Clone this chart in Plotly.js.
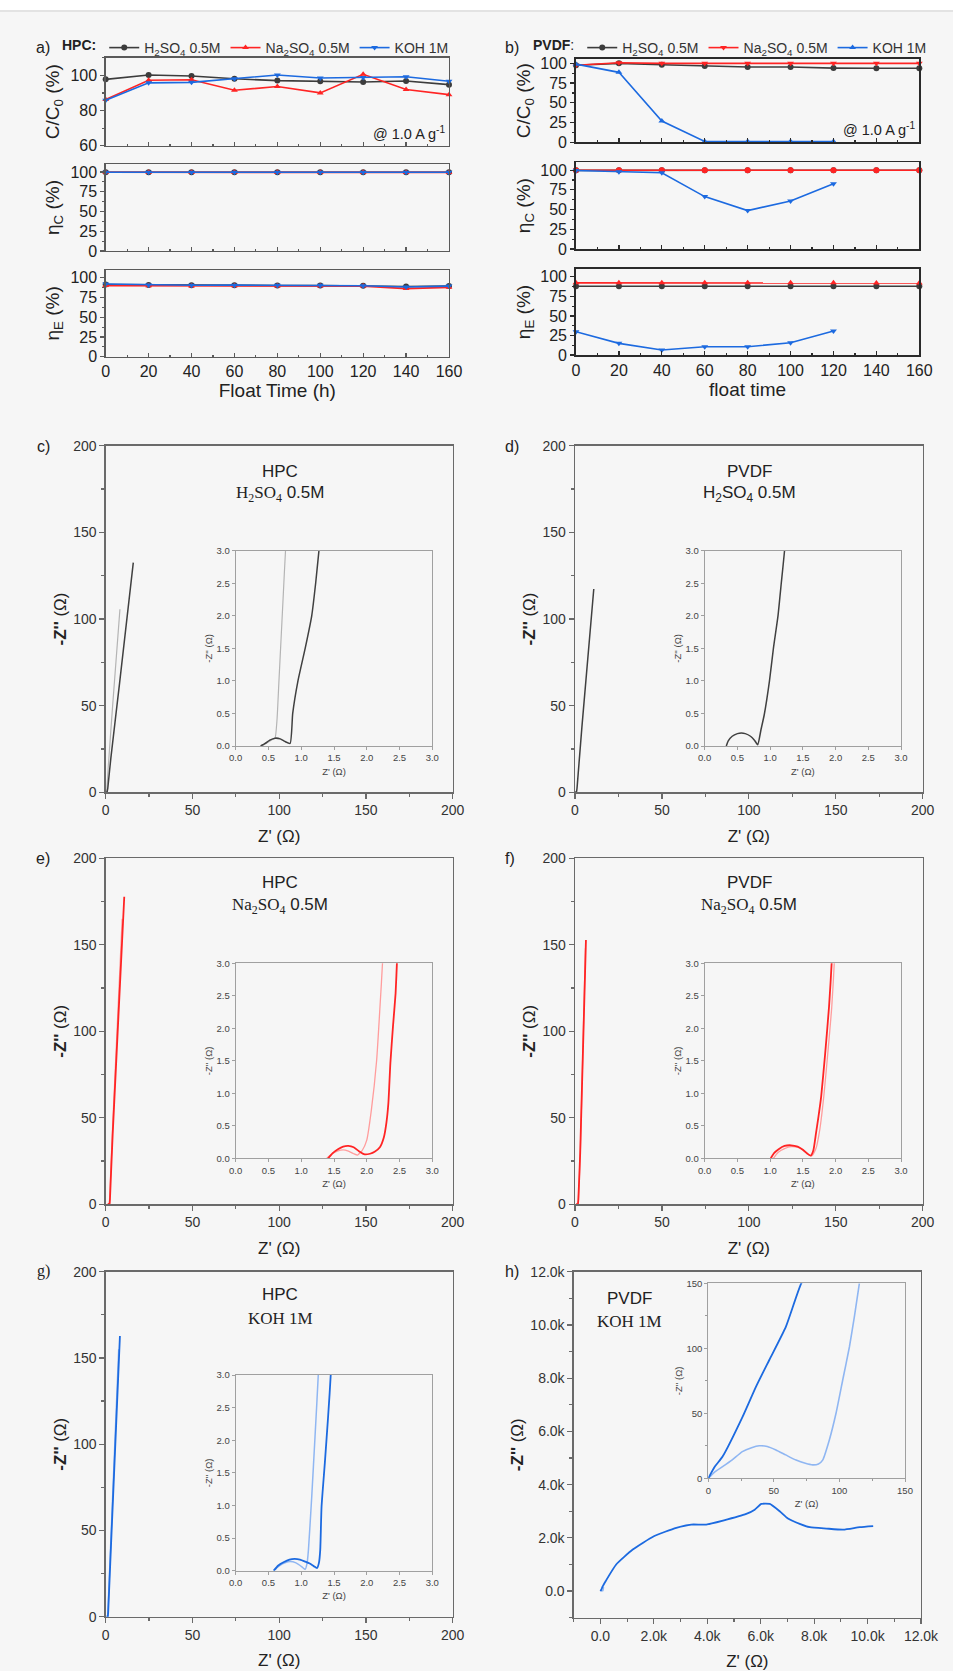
<!DOCTYPE html>
<html>
<head>
<meta charset="utf-8">
<script src="https://cdn.plot.ly/plotly-3.0.1.min.js"></script>
<style>
  html, body { margin: 0; padding: 0; background: #f6f6f6; }
  #chart { width: 953px; height: 1671px; }
</style>
</head>
<body>
<div id="chart"></div>
<script>
// ---------- float test: capacitance retention and efficiencies ----------
const floatTime    = [0, 20, 40, 60, 80, 100, 120, 140, 160];
const floatTimeKOH = [0, 20, 40, 60, 80, 100, 120];

// HPC binder
const hpcRetH2SO4   = [97.7, 100.2, 99.6, 98.0, 97.0, 96.6, 96.2, 96.8, 94.7];
const hpcRetNa2SO4  = [86.2, 97.2, 97.5, 91.5, 93.6, 90.0, 100.6, 91.9, 89.0];
const hpcRetKOH     = [85.8, 95.7, 96.0, 98.1, 100.2, 98.5, 98.7, 99.2, 96.6];
const hpcEtaCH2SO4  = [99.6, 99.7, 99.7, 99.6, 99.7, 99.6, 99.6, 99.5, 99.5];
const hpcEtaCNa2SO4 = [99.5, 99.6, 99.6, 99.6, 99.6, 99.5, 99.6, 99.4, 99.4];
const hpcEtaCKOH    = [99.6, 99.7, 99.7, 99.7, 99.7, 99.6, 99.7, 99.6, 99.5];
const hpcEtaEH2SO4  = [91.5, 91.0, 90.6, 90.6, 90.4, 90.4, 90.0, 89.0, 89.6];
const hpcEtaENa2SO4 = [90.2, 90.0, 89.8, 90.0, 89.8, 89.8, 89.6, 86.4, 88.0];
const hpcEtaEKOH    = [92.3, 91.0, 90.6, 90.8, 90.5, 90.5, 90.0, 88.5, 89.6];

// PVDF binder
const pvdfRetH2SO4   = [97.5, 100.0, 98.3, 96.6, 95.4, 95.4, 94.0, 93.7, 93.7];
const pvdfRetNa2SO4  = [97.5, 100.8, 100.0, 100.0, 100.0, 100.0, 100.0, 100.0, 100.0];
const pvdfRetKOH     = [99.0, 88.6, 27.0, 1.0, 1.0, 1.0, 1.0];
const pvdfEtaCH2SO4  = [99.8, 99.9, 99.9, 99.9, 99.9, 99.9, 99.9, 99.9, 99.9];
const pvdfEtaCNa2SO4 = [99.9, 100.0, 100.0, 100.0, 100.0, 100.0, 100.0, 100.0, 100.0];
const pvdfEtaCKOH    = [99.6, 98.0, 96.7, 66.5, 48.7, 61.0, 82.7];
const pvdfEtaEH2SO4  = [88.0, 88.0, 88.0, 88.0, 88.0, 88.0, 88.0, 88.0, 88.0];
const pvdfEtaENa2SO4 = [92.3, 92.3, 92.3, 92.3, 92.3, 92.3, 92.3, 92.0, 92.0];
const pvdfEtaEKOH    = [29.8, 14.9, 6.4, 10.6, 10.6, 15.7, 30.6];

// ---------- Nyquist plots: Z' and -Z'' (ohm), initial and after float ----------
const hpcH2SO4InitRe  = [0.40, 0.48, 0.56, 0.60, 0.63, 0.66, 0.69, 0.72, 0.76, 1.5, 4.0, 8.2];
const hpcH2SO4InitIm  = [0.00, 0.05, 0.10, 0.12, 0.40, 1.00, 1.60, 2.20, 3.00, 15, 50, 105.6];
const hpcH2SO4AgedRe  = [0.38, 0.45, 0.52, 0.60, 0.68, 0.75, 0.83, 0.87, 0.95, 1.06, 1.16, 1.22, 1.27, 3.0, 8.0, 15.9];
const hpcH2SO4AgedIm  = [0.00, 0.04, 0.09, 0.12, 0.11, 0.07, 0.04, 0.50, 1.00, 1.50, 2.00, 2.50, 3.00, 20, 63, 132.5];

const pvdfH2SO4Re = [0.33, 0.36, 0.42, 0.50, 0.56, 0.62, 0.70, 0.76, 0.81, 0.86, 0.91, 0.99, 1.05, 1.12, 1.17, 1.22, 4.0, 10.8];
const pvdfH2SO4Im = [0.00, 0.08, 0.15, 0.19, 0.20, 0.19, 0.15, 0.09, 0.02, 0.25, 0.48, 1.00, 1.50, 2.00, 2.50, 3.00, 38, 117.3];

const hpcNa2SO4InitRe = [1.39, 1.46, 1.55, 1.64, 1.72, 1.80, 1.86, 1.93, 2.00, 2.07, 2.15, 2.20, 2.24, 4.0, 9.5];
const hpcNa2SO4InitIm = [0.00, 0.06, 0.11, 0.13, 0.11, 0.07, 0.05, 0.12, 0.28, 0.74, 1.50, 2.30, 3.00, 45, 165];
const hpcNa2SO4AgedRe = [1.41, 1.48, 1.56, 1.64, 1.72, 1.80, 1.88, 1.97, 2.05, 2.12, 2.20, 2.26, 2.30, 2.33, 2.36, 2.40, 2.44, 2.46, 4.0, 10.7];
const hpcNa2SO4AgedIm = [0.00, 0.08, 0.14, 0.18, 0.19, 0.17, 0.11, 0.06, 0.07, 0.10, 0.17, 0.32, 0.55, 0.85, 1.46, 2.03, 2.54, 3.00, 40, 177.8];

const pvdfNa2SO4InitRe = [1.05, 1.12, 1.22, 1.32, 1.42, 1.52, 1.60, 1.64, 1.70, 1.76, 1.82, 1.88, 1.94, 1.98, 3.1, 6.0];
const pvdfNa2SO4InitIm = [0.00, 0.09, 0.15, 0.18, 0.17, 0.12, 0.05, 0.04, 0.15, 0.45, 0.95, 1.60, 2.30, 3.00, 32, 148];
const pvdfNa2SO4AgedRe = [1.01, 1.06, 1.13, 1.22, 1.32, 1.42, 1.50, 1.57, 1.62, 1.66, 1.70, 1.74, 1.78, 1.84, 1.90, 1.94, 3.0, 6.3];
const pvdfNa2SO4AgedIm = [0.00, 0.08, 0.14, 0.19, 0.20, 0.18, 0.13, 0.07, 0.04, 0.12, 0.38, 0.65, 0.95, 1.60, 2.33, 3.00, 30, 152.8];

const hpcKOHInitRe = [0.58, 0.66, 0.75, 0.83, 0.92, 1.01, 1.06, 1.09, 1.11, 1.16, 1.21, 1.26, 3.0, 7.5];
const hpcKOHInitIm = [0.00, 0.07, 0.12, 0.14, 0.12, 0.06, 0.02, 0.12, 0.32, 1.13, 2.05, 3.00, 45, 155];
const hpcKOHAgedRe = [0.58, 0.65, 0.73, 0.82, 0.90, 0.98, 1.06, 1.13, 1.19, 1.24, 1.27, 1.29, 1.31, 1.36, 1.41, 1.45, 3.0, 8.2];
const hpcKOHAgedIm = [0.00, 0.08, 0.13, 0.17, 0.18, 0.17, 0.14, 0.11, 0.07, 0.04, 0.12, 0.32, 0.98, 1.65, 2.36, 3.00, 40, 162.7];

const pvdfKOHInitRe = [0, 5, 10.9, 18, 26, 33, 38.9, 45, 51.6, 59, 66.9, 74, 79.6, 84, 87.2, 92.3, 97.4, 102.5, 107.6, 111.5, 115.2];
const pvdfKOHInitIm = [0, 5, 9, 14, 20.5, 23.5, 25, 24.5, 21.8, 18, 14, 11.5, 10.3, 11, 14, 29.5, 50, 75.6, 101, 125, 150];
const pvdfKOHAgedRe = [0, 5, 10.9, 26.2, 36.4, 46.5, 59.2, 70.7, 90, 200, 590, 1210, 2000, 2840, 3400, 3960, 4590, 5460, 5775, 6025, 6340, 6710, 7020, 7460, 7840, 8460, 9090, 9710, 10210];
const pvdfKOHAgedIm = [0, 9, 16.7, 47.4, 70.5, 91, 116.7, 149.5, 185, 380, 1000, 1560, 2060, 2375, 2500, 2500, 2650, 2900, 3060, 3275, 3275, 3000, 2725, 2525, 2400, 2350, 2310, 2400, 2440];

// tick labels of the PVDF/KOH Nyquist plot
const kTickVals = [0, 2000, 4000, 6000, 8000, 10000, 12000];
const kTickText = ['0.0', '2.0k', '4.0k', '6.0k', '8.0k', '10.0k', '12.0k'];

// ---------- styling ----------
const W = 953, H = 1671;
const BG = '#f6f6f6';
const FONT = 'Liberation Sans, Arial, Helvetica, sans-serif';
const SERIF = "'Liberation Serif', 'DejaVu Serif', serif";
const BLACK = '#3c3c3c', RED = '#ff2424', BLUE = '#1c6ae0';
const GRAY_L = '#b4b4b4', GRAY_D = '#404040';
const RED_L = '#ff9c9c', BLUE_L = '#8fb6f2';

const xdom = (l, r) => [l / W, r / W];
const ydom = (t, b) => [1 - b / H, 1 - t / H];

const traces = [];

function floatSeries(x, y, xa, ya, color, symbol, name, legend, showlegend) {
  traces.push({
    type: 'scatter', mode: 'lines+markers', x: x, y: y, xaxis: xa, yaxis: ya,
    name: name, legend: legend, showlegend: showlegend,
    line: { color: color, width: 1.6 },
    marker: { color: color, symbol: symbol, size: 6 },
    cliponaxis: false
  });
}

function nyquist(x, y, xa, ya, color, width) {
  traces.push({
    type: 'scatter', mode: 'lines', x: x, y: y, xaxis: xa, yaxis: ya,
    showlegend: false, hoverinfo: 'skip',
    line: { color: color, width: width, shape: 'spline', smoothing: 0.5 }
  });
}

const H2 = 'H<sub>2</sub>SO<sub>4</sub> 0.5M';
const NA = 'Na<sub>2</sub>SO<sub>4</sub> 0.5M';
const KO = 'KOH 1M';

// (a) HPC
floatSeries(floatTime, hpcRetH2SO4,  'x', 'y', BLACK, 'circle', H2, 'legend', true);
floatSeries(floatTime, hpcRetNa2SO4, 'x', 'y', RED, 'triangle-up', NA, 'legend', true);
floatSeries(floatTime, hpcRetKOH,    'x', 'y', BLUE, 'triangle-down', KO, 'legend', true);
floatSeries(floatTime, hpcEtaCH2SO4,  'x2', 'y2', BLACK, 'circle', H2, 'legend', false);
floatSeries(floatTime, hpcEtaCNa2SO4, 'x2', 'y2', RED, 'triangle-up', NA, 'legend', false);
floatSeries(floatTime, hpcEtaCKOH,    'x2', 'y2', BLUE, 'triangle-down', KO, 'legend', false);
floatSeries(floatTime, hpcEtaEH2SO4,  'x3', 'y3', BLACK, 'circle', H2, 'legend', false);
floatSeries(floatTime, hpcEtaENa2SO4, 'x3', 'y3', RED, 'triangle-up', NA, 'legend', false);
floatSeries(floatTime, hpcEtaEKOH,    'x3', 'y3', BLUE, 'triangle-down', KO, 'legend', false);

// (b) PVDF
floatSeries(floatTime, pvdfRetH2SO4,  'x4', 'y4', BLACK, 'circle', H2, 'legend2', true);
floatSeries(floatTime, pvdfRetNa2SO4, 'x4', 'y4', RED, 'triangle-down', NA, 'legend2', true);
floatSeries(floatTimeKOH, pvdfRetKOH, 'x4', 'y4', BLUE, 'triangle-up', KO, 'legend2', true);
floatSeries(floatTime, pvdfEtaCH2SO4,  'x5', 'y5', BLACK, 'circle', H2, 'legend2', false);
floatSeries(floatTime, pvdfEtaCNa2SO4, 'x5', 'y5', RED, 'circle', NA, 'legend2', false);
floatSeries(floatTimeKOH, pvdfEtaCKOH, 'x5', 'y5', BLUE, 'triangle-down', KO, 'legend2', false);
floatSeries(floatTime, pvdfEtaEH2SO4,  'x6', 'y6', BLACK, 'circle', H2, 'legend2', false);
floatSeries(floatTime, pvdfEtaENa2SO4, 'x6', 'y6', RED, 'triangle-up', NA, 'legend2', false);
floatSeries(floatTimeKOH, pvdfEtaEKOH, 'x6', 'y6', BLUE, 'triangle-down', KO, 'legend2', false);

// Nyquist panels: each data set drawn on the full plot and on its zoomed inset
const nyq = [
  // [main x, main y, inset x, inset y, list of [re, im, color, width]]
  ['x7', 'y7', 'x13', 'y13', [[hpcH2SO4InitRe, hpcH2SO4InitIm, GRAY_L, 1.2], [hpcH2SO4AgedRe, hpcH2SO4AgedIm, GRAY_D, 1.5]]],
  ['x8', 'y8', 'x14', 'y14', [[pvdfH2SO4Re, pvdfH2SO4Im, GRAY_D, 1.5]]],
  ['x9', 'y9', 'x15', 'y15', [[hpcNa2SO4InitRe, hpcNa2SO4InitIm, RED_L, 1.3], [hpcNa2SO4AgedRe, hpcNa2SO4AgedIm, RED, 1.8]]],
  ['x10', 'y10', 'x16', 'y16', [[pvdfNa2SO4InitRe, pvdfNa2SO4InitIm, RED_L, 1.3], [pvdfNa2SO4AgedRe, pvdfNa2SO4AgedIm, RED, 1.8]]],
  ['x11', 'y11', 'x17', 'y17', [[hpcKOHInitRe, hpcKOHInitIm, BLUE_L, 1.5], [hpcKOHAgedRe, hpcKOHAgedIm, BLUE, 1.8]]],
  ['x12', 'y12', 'x18', 'y18', [[pvdfKOHInitRe, pvdfKOHInitIm, BLUE_L, 1.6], [pvdfKOHAgedRe, pvdfKOHAgedIm, BLUE, 1.8]]]
];
nyq.forEach(p => p[4].forEach(s => {
  nyquist(s[0], s[1], p[0], p[1], s[2], s[3]);
  nyquist(s[0], s[1], p[2], p[3], s[2], s[3]);
}));

// ---------- axes ----------
function frame(extra) {
  return Object.assign({
    showline: true, mirror: true, showgrid: false, zeroline: false,
    linecolor: '#6a6a6a', linewidth: 1.3,
    ticks: 'outside', ticklen: 5, tickwidth: 1.2, tickcolor: '#6a6a6a',
    tickfont: { size: 14, color: '#333' }
  }, extra);
}

const legendBase = {
  orientation: 'h', xanchor: 'left', y: 1 - 48 / H, yanchor: 'middle',
  bgcolor: 'rgba(0,0,0,0)', font: { size: 14, color: '#333' },
  itemwidth: 30, tracegroupgap: 0
};

const layout = {
  width: W, height: H,
  margin: { l: 0, r: 0, t: 0, b: 0, autoexpand: false },
  paper_bgcolor: BG, plot_bgcolor: BG,
  font: { family: FONT, color: '#222' },
  showlegend: true,
  legend: Object.assign({}, legendBase, {
    x: 60 / W,
    title: { text: '<b>HPC:</b>', side: 'left', font: { size: 14, color: '#222' } }
  }),
  legend2: Object.assign({}, legendBase, {
    x: 531 / W,
    title: { text: '<b>PVDF</b>:', side: 'left', font: { size: 14, color: '#222' } }
  }),
  annotations: [],
  shapes: [
    { type: 'rect', xref: 'paper', yref: 'paper', x0: 0, x1: 1, y0: 1 - 10 / H, y1: 1,
      fillcolor: '#ffffff', line: { width: 0 }, layer: 'below' },
    { type: 'line', xref: 'paper', yref: 'paper', x0: 0, x1: 1, y0: 1 - 11 / H, y1: 1 - 11 / H,
      line: { color: '#dcdcdc', width: 1.5 }, layer: 'below' }
  ]
};

// float panels
const topCols = [xdom(105.7, 449), xdom(576, 919.3)];
const topRows = [
  [ydom(57.7, 145.7), ydom(164, 251), ydom(270, 356.7)],
  [ydom(59, 142.3), ydom(162.3, 249), ydom(269, 355)]
];
const topYTitles = ['C/C<sub>0</sub> (%)', '\u03b7<sub>C</sub> (%)', '\u03b7<sub>E</sub> (%)'];
const topXTitles = ['Float Time (h)', 'float time'];
const topYRanges = [[[60, 110], [0, 110], [0, 110]], [[0, 105.5], [0, 110], [0, 110]]];
const retTicks = [[60, 80, 100], [0, 25, 50, 75, 100]];

for (let c = 0; c < 2; c++) {
  for (let r = 0; r < 3; r++) {
    const n = c * 3 + r + 1;
    const xk = n === 1 ? 'xaxis' : 'xaxis' + n;
    const yk = n === 1 ? 'yaxis' : 'yaxis' + n;
    const xa = n === 1 ? 'x' : 'x' + n;
    const ya = n === 1 ? 'y' : 'y' + n;
    const lc = c === 0 ? '#5a5a5a' : '#2a2a2a';
    const xAxis = frame({
      domain: topCols[c], anchor: ya, range: [0, 160], dtick: 20,
      ticks: 'inside', ticklen: 4, tickcolor: lc, linecolor: lc, linewidth: c === 0 ? 1.4 : 1.8,
      minor: { ticks: 'inside', ticklen: 2, dtick: 10, tickcolor: lc },
      showticklabels: r === 2,
      tickfont: { size: 16, color: '#222' }
    });
    if (r === 2) xAxis.title = { text: topXTitles[c], font: { size: 19, color: '#222' }, standoff: 4 };
    layout[xk] = xAxis;
    layout[yk] = frame({
      domain: topRows[c][r], anchor: xa, range: topYRanges[c][r],
      tickvals: (c === 0 && r === 0) ? retTicks[0] : retTicks[1],
      ticklen: 4, tickcolor: lc, linecolor: lc, linewidth: c === 0 ? 1.4 : 1.8,
      minor: { ticks: 'outside', ticklen: 2, dtick: (c === 0 && r === 0) ? 10 : 12.5, tickcolor: lc },
      tickfont: { size: 16, color: '#222' },
      title: { text: topYTitles[r], font: { size: 19, color: '#222' }, standoff: 5 }
    });
  }
}

// Nyquist main plots and insets
const mainCols = [xdom(105.7, 452.7), xdom(575, 922.7)];
const mainRows = [ydom(445.7, 792.3), ydom(858.3, 1204.3), ydom(1271.7, 1616.7)];
const insetCols = [xdom(235.7, 432.3), xdom(704.7, 901)];
const insetRows = [ydom(550.7, 746), ydom(963.3, 1158.3), ydom(1375, 1570.7)];

for (let i = 0; i < 6; i++) {
  const row = Math.floor(i / 2), col = i % 2;
  const m = 7 + i, s = 13 + i, o = 19 + i;
  const isK = i === 5;
  const mainX = isK ? xdom(573.7, 921) : mainCols[col];
  const mainY = isK ? ydom(1271.7, 1617.7) : mainRows[row];
  const kAxis = {
    range: [-1000, 12000], tickvals: kTickVals, ticktext: kTickText,
    minor: { ticks: 'outside', ticklen: 3, dtick: 1000, tickcolor: '#6a6a6a' }
  };
  const ohmAxis = {
    range: [0, 200], dtick: 50,
    minor: { ticks: 'outside', ticklen: 3, dtick: 25, tickcolor: '#6a6a6a' }
  };
  const scale = isK ? kAxis : ohmAxis;
  layout['xaxis' + m] = frame(Object.assign({
    domain: mainX, anchor: 'y' + m,
    title: { text: "Z' (\u03a9)", font: { size: 17, color: '#222' }, standoff: 12 }
  }, scale));
  layout['yaxis' + m] = frame(Object.assign({
    domain: mainY, anchor: 'x' + m,
    title: { text: "<b>-Z''</b> (\u03a9)", font: { size: 17, color: '#222' }, standoff: 2 }
  }, scale));

  // inward ticks along the top and right edges of the frame
  const mirrorTicks = {
    range: scale.range, tickvals: scale.tickvals, dtick: scale.dtick,
    showticklabels: false, showline: false, showgrid: false, zeroline: false,
    ticks: 'inside', ticklen: 5, tickwidth: 1.2, tickcolor: '#6a6a6a',
    minor: { ticks: 'inside', ticklen: 3, dtick: scale.minor.dtick, tickcolor: '#6a6a6a' }
  };
  layout['xaxis' + o] = Object.assign({}, mirrorTicks, { overlaying: 'x' + m, anchor: 'y' + m, side: 'top' });
  layout['yaxis' + o] = Object.assign({}, mirrorTicks, { overlaying: 'y' + m, anchor: 'x' + m, side: 'right' });

  const insX = isK ? xdom(708.3, 905) : insetCols[col];
  const insY = isK ? ydom(1283.3, 1478.3) : insetRows[row];
  const insAxis = isK
    ? { range: [0, 150], dtick: 50, minor: { ticks: 'outside', ticklen: 2, dtick: 25, tickcolor: '#999' } }
    : { range: [0, 3], dtick: 0.5, tickformat: '.1f' };
  const insBase = {
    linecolor: '#a0a0a0', linewidth: 1, tickcolor: '#a0a0a0', ticklen: 3, tickwidth: 1,
    tickfont: { size: 9.5, color: '#444' }
  };
  layout['xaxis' + s] = frame(Object.assign({}, insBase, insAxis, {
    domain: insX, anchor: 'y' + s,
    title: { text: "Z' (\u03a9)", font: { size: 9.5, color: '#444' }, standoff: 5 }
  }));
  layout['yaxis' + s] = frame(Object.assign({}, insBase, insAxis, {
    domain: insY, anchor: 'x' + s,
    title: { text: "-Z'' (\u03a9)", font: { size: 9.5, color: '#444' }, standoff: 2 }
  }));
}

// ---------- text labels ----------
function note(text, x, y, size, extra) {
  layout.annotations.push(Object.assign({
    text: text, xref: 'paper', yref: 'paper', x: x / W, y: 1 - y / H,
    xanchor: 'center', yanchor: 'middle', showarrow: false,
    font: { size: size, color: '#222', family: FONT }
  }, extra || {}));
}

note('a)', 43, 48, 16);
note('b)', 512, 48, 16);
note('@ 1.0 A g<sup>-1</sup>', 447, 133, 14.5, { xanchor: 'right' });
note('@ 1.0 A g<sup>-1</sup>', 917, 129, 14.5, { xanchor: 'right' });

note('c)', 43, 446, 16);
note('d)', 512, 446, 16);
note('e)', 43, 858, 16);
note('f)', 510, 858, 16);
note('g)', 43, 1271, 16, { font: { size: 16, color: '#222', family: SERIF } });
note('h)', 512, 1271, 16);

const serifH2 = '<span style="font-family:' + SERIF.replace(/"/g, '') + '">H<sub>2</sub>SO<sub>4</sub></span> 0.5M';
const serifNa = '<span style="font-family:' + SERIF.replace(/"/g, '') + '">Na<sub>2</sub>SO<sub>4</sub></span> 0.5M';

note('HPC', 280, 471, 17);
note(serifH2, 280, 494, 17);
note('PVDF', 749, 471, 17);
note(H2, 749, 494, 17);
note('HPC', 280, 882, 17);
note(serifNa, 280, 906, 17);
note('PVDF', 749, 882, 17);
note(serifNa, 749, 906, 17);
note('HPC', 280, 1294, 17);
note('KOH 1M', 280, 1318, 17, { font: { size: 17, color: '#222', family: SERIF } });
note('PVDF', 629, 1298, 17);
note('KOH 1M', 629, 1321, 17, { font: { size: 17, color: '#222', family: SERIF } });

Plotly.newPlot('chart', traces, layout, { displayModeBar: false, staticPlot: true });
</script>
</body>
</html>
